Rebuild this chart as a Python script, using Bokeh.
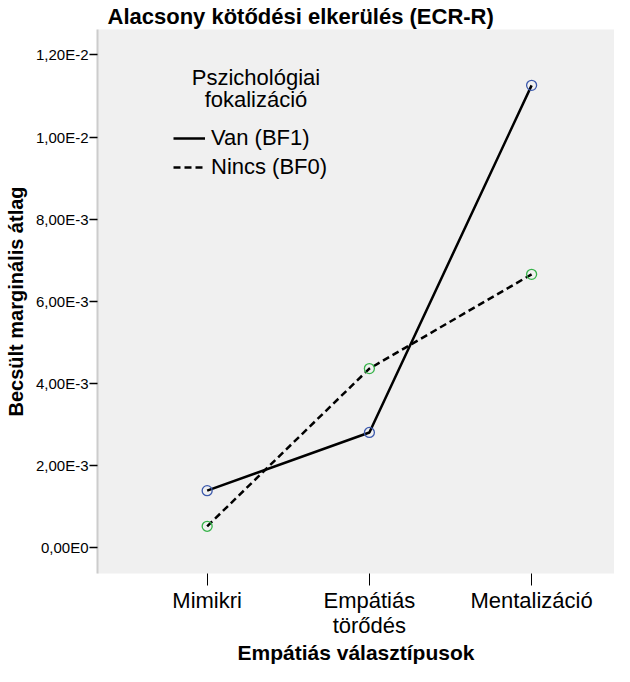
from bokeh.plotting import figure
from bokeh.models import FixedTicker, Range1d, Legend, LegendItem, Label
from bokeh.embed import file_html
from bokeh.resources import INLINE

# ---- data ----
categories = ["Mimikri", "Empátiás\ntörődés", "Mentalizáció"]
van_bf1 = [1.392e-3, 2.809e-3, 11.26e-3]
nincs_bf0 = [0.525e-3, 4.364e-3, 6.659e-3]
y_ticks = [0.0, 2e-3, 4e-3, 6e-3, 8e-3, 10e-3, 12e-3]
y_tick_labels = ["0,00E0", "2,00E-3", "4,00E-3", "6,00E-3", "8,00E-3", "1,00E-2", "1,20E-2"]
series_names = ["Van (BF1)", "Nincs (BF0)"]
legend_title_lines = ["Pszichológiai", "fokalizáció"]
chart_title = "Alacsony kötődési elkerülés (ECR-R)"
x_title = "Empátiás választípusok"
y_title = "Becsült marginális átlag"

FONT = "Liberation Sans"
x = list(range(len(categories)))

p = figure(width=614, height=666, output_backend="svg", toolbar_location=None,
           x_range=Range1d(-0.676, 2.511), y_range=Range1d(-0.6245e-3, 12.62e-3),
           min_border=0,
           min_border_left=97, min_border_right=0, min_border_top=25, min_border_bottom=90,
           title=chart_title)

p.background_fill_color = "#f0f0f0"
p.border_fill_color = "white"
p.outline_line_color = None
p.grid.visible = False

p.title.align = "left"
p.title.offset = 10
p.title.standoff = 2
p.title.text_font = FONT
p.title.text_font_size = "22px"
p.title.text_font_style = "bold"
p.title.text_color = "black"

# y axis
ya = p.yaxis[0]
ya.ticker = FixedTicker(ticks=y_ticks)
ya.major_label_overrides = {t: l for t, l in zip(y_ticks, y_tick_labels)}
ya.minor_tick_line_color = None
ya.major_tick_in = 0
ya.major_tick_out = 8
ya.major_tick_line_width = 1.5
ya.major_tick_line_color = "black"
ya.axis_line_color = "#cccccc"
ya.axis_line_width = 2
ya.major_label_standoff = 1
ya.major_label_text_font = FONT
ya.major_label_text_font_size = "15px"
ya.major_label_text_color = "black"
ya.axis_label = y_title
ya.axis_label_text_font = FONT
ya.axis_label_text_font_size = "20px"
ya.axis_label_text_font_style = "bold"
ya.axis_label_text_color = "black"
ya.axis_label_standoff = 6

# x axis
xa = p.xaxis[0]
xa.ticker = FixedTicker(ticks=x)
xa.major_label_overrides = {i: c for i, c in zip(x, categories)}
xa.minor_tick_line_color = None
xa.major_tick_in = 0
xa.major_tick_out = 12
xa.major_tick_line_color = "black"
xa.axis_line_color = None
xa.major_label_standoff = 2
xa.major_label_text_font = FONT
xa.major_label_text_font_size = "22px"
xa.major_label_text_line_height = 1.0
xa.major_label_text_color = "black"
xa.axis_label = x_title
xa.axis_label_text_font = FONT
xa.axis_label_text_font_size = "21px"
xa.axis_label_text_font_style = "bold"
xa.axis_label_text_line_height = 1.0
xa.axis_label_text_color = "black"
xa.axis_label_standoff = 0

# series
r1 = p.line(x, van_bf1, line_color="black", line_width=2.5)
r2 = p.line(x, nincs_bf0, line_color="black", line_width=2.5, line_dash="7 4")
p.scatter(x, van_bf1, marker="circle", size=10, fill_color=None,
          line_color="#3d5aac", line_width=1.3)
p.scatter(x, nincs_bf0, marker="circle", size=10, fill_color=None,
          line_color="#37b34a", line_width=1.3)

legend = Legend(items=[LegendItem(label=series_names[0], renderers=[r1]),
                       LegendItem(label=series_names[1], renderers=[r2])],
                location=(76, 393), padding=0, margin=0, spacing=3,
                glyph_width=32, glyph_height=20, label_standoff=6,
                label_text_font=FONT, label_text_font_size="22px",
                label_text_color="black",
                border_line_color=None, background_fill_alpha=0)
p.add_layout(legend)

for i, line in enumerate(legend_title_lines):
    p.add_layout(Label(x=158.5, y=496 - 22 * i, x_units="screen", y_units="screen",
                       text=line, text_align="center", text_baseline="middle",
                       text_font=FONT, text_font_size="22px", text_color="black"))

open("out.html", "w").write(file_html(p, INLINE))
